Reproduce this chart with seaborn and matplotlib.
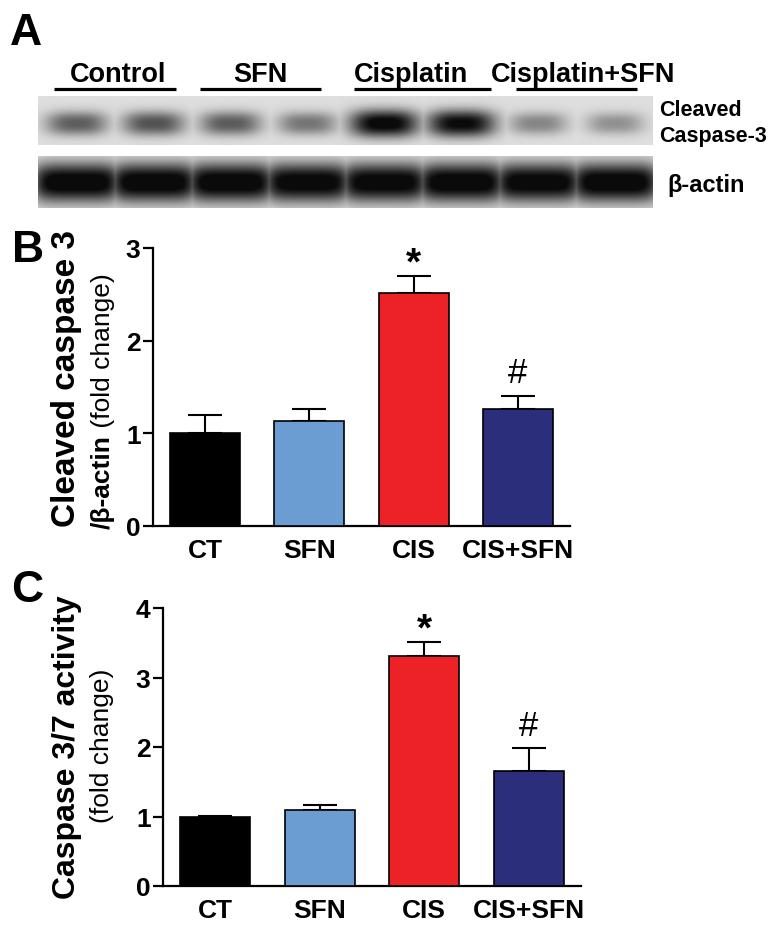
import numpy as np
import matplotlib
matplotlib.use("Agg")
import matplotlib.pyplot as plt
import seaborn as sns

# ---------------- data ----------------
groups = ["CT", "SFN", "CIS", "CIS+SFN"]
bar_colors = ["#000000", "#6B9DD2", "#EC2227", "#2B2E7A"]

# panel B: cleaved caspase 3 / beta-actin
cleaved_mean = [1.00, 1.13, 2.51, 1.26]
cleaved_sem = [0.20, 0.13, 0.19, 0.14]
cleaved_marks = ["", "", "*", "#"]

# panel C: caspase 3/7 activity
activity_mean = [1.00, 1.09, 3.31, 1.65]
activity_sem = [0.01, 0.07, 0.20, 0.33]
activity_marks = ["", "", "*", "#"]

# panel A: western blot (band darkness, 2 lanes per group)
blot_groups = ["Control", "SFN", "Cisplatin", "Cisplatin+SFN"]
caspase_bands = [0.55, 0.60, 0.56, 0.45, 0.97, 0.93, 0.38, 0.33]
actin_bands = [1.0, 1.0, 1.0, 0.98, 0.98, 1.0, 0.98, 1.0]

W, H = 774, 929


def px_rect(x0, y0, x1, y1):
    return [x0 / W, 1 - y1 / H, (x1 - x0) / W, (y1 - y0) / H]


sns.set_style("ticks")
plt.rcParams["font.family"] = ["Liberation Sans", "DejaVu Sans"]
for key in ["text.color", "axes.labelcolor", "xtick.color", "ytick.color", "axes.edgecolor"]:
    plt.rcParams[key] = "black"

fig = plt.figure(figsize=(W / 100, H / 100), dpi=100)

# overlay axes in pixel coordinates for panel letters / blot labels
ov = fig.add_axes([0, 0, 1, 1])
ov.set_xlim(0, W)
ov.set_ylim(H, 0)
ov.axis("off")


# =====================================
# Panel A: blot
# =====================================
def blot_image(levels, width, height, yc, bw, bh, sharp):
    xs = np.arange(width)[None, :]
    ys = np.arange(height)[:, None]
    lane = width / len(levels)
    dark = np.zeros((height, width))
    for i, lv in enumerate(levels):
        xc = lane * (i + 0.5)
        sx = bw * (0.8 + 0.3 * lv)
        sy = bh * (0.8 + 0.35 * lv)
        prof = np.exp(-np.abs((xs - xc) / sx) ** sharp) * np.exp(-np.abs((ys - yc) / sy) ** 2.4)
        dark = np.maximum(dark, lv * prof)
    bg = 0.87
    return bg - np.clip(dark * 1.1, 0, 1) * (bg - 0.04)


blot_x0, blot_x1 = 38, 653
for levels, (y0, y1), yc, bw, bh, sharp in [
    (caspase_bands, (97, 146), 27, 32, 12, 3),
    (actin_bands, (157, 209), 26, 40, 17, 6),
]:
    bax = fig.add_axes(px_rect(blot_x0, y0, blot_x1, y1))
    img = blot_image(levels, blot_x1 - blot_x0, y1 - y0, yc, bw, bh, sharp)
    bax.imshow(img, cmap="gray", vmin=0, vmax=1, aspect="auto", interpolation="bilinear")
    bax.axis("off")

group_lines = [(54, 176), (200, 321), (354, 491), (516, 637)]
group_text_x = [118, 260, 411, 583]
for name, (l0, l1), tx in zip(blot_groups, group_lines, group_text_x):
    ov.plot([l0, l1], [90, 90], color="black", lw=2.3, solid_capstyle="butt")
    ov.text(tx, 82, name, ha="center", va="baseline", fontsize=19.5, fontweight="bold")

ov.text(659, 116, "Cleaved", ha="left", va="baseline", fontsize=15.5, fontweight="bold")
ov.text(659, 142, "Caspase-3", ha="left", va="baseline", fontsize=15.5, fontweight="bold")
ov.text(667, 192, "\u03b2-actin", ha="left", va="baseline", fontsize=17, fontweight="bold")

for letter, x, y in [("A", 10, 45), ("B", 12, 262), ("C", 11, 602)]:
    ov.text(x, y, letter, ha="left", va="baseline", fontsize=32, fontweight="bold")


# =====================================
# Panels B and C: bar charts
# =====================================
def bar_panel(ax, means, sems, marks, ymax):
    sns.barplot(x=groups, y=means, hue=groups, palette=bar_colors, legend=False,
                saturation=1, width=0.67, edgecolor="black", linewidth=1.2, ax=ax, zorder=3)
    ax.errorbar(range(len(groups)), means, yerr=[np.zeros(len(sems)), sems],
                fmt="none", ecolor="black", elinewidth=1.5, capsize=12, capthick=1.5,
                zorder=2)
    for i, m in enumerate(marks):
        if m == "*":
            ax.annotate(m, (i, means[i] + sems[i]), xytext=(0, 2), textcoords="offset points",
                        ha="center", va="baseline", fontsize=28, fontweight="bold")
        elif m == "#":
            ax.annotate(m, (i, means[i] + sems[i]), xytext=(0, 10), textcoords="offset points",
                        ha="center", va="baseline", fontsize=25)
    ax.set_xlim(-0.5, 3.5)
    ax.set_ylim(0, ymax)
    ax.set_yticks(range(ymax + 1))
    sns.despine(ax=ax)
    for s in ["left", "bottom"]:
        ax.spines[s].set_linewidth(1.6)
    ax.tick_params(axis="y", length=7, width=1.6, pad=2, labelsize=19)
    ax.tick_params(axis="x", length=0, pad=9, labelsize=19)
    for lab in ax.get_xticklabels() + ax.get_yticklabels():
        lab.set_fontweight("bold")
    ax.set_xlabel("")
    ax.set_ylabel("")


axB = fig.add_axes(px_rect(153, 249, 570, 527))
bar_panel(axB, cleaved_mean, cleaved_sem, cleaved_marks, 3)

axC = fig.add_axes(px_rect(163, 609, 581, 887))
bar_panel(axC, activity_mean, activity_sem, activity_marks, 4)

# y labels
ov.text(67, 378, "Cleaved caspase 3", rotation=90, ha="center", va="center",
        fontsize=24, fontweight="bold")

# second line of label B: bold part + regular part stacked along the rotated line
fig.canvas.draw()
renderer = fig.canvas.get_renderer()
bold_part = ov.text(0, 0, "/\u03b2-actin", rotation=90, fontsize=19, fontweight="bold")
reg_part = ov.text(0, 0, " (fold change)", rotation=90, fontsize=19)
hb = bold_part.get_window_extent(renderer).height
hr = reg_part.get_window_extent(renderer).height
y_bottom = 401 + (hb + hr) / 2
bold_part.set_position((103, y_bottom))
bold_part.set_ha("center")
bold_part.set_va("bottom")
reg_part.set_position((103, y_bottom - hb))
reg_part.set_ha("center")
reg_part.set_va("bottom")

ov.text(67, 747, "Caspase 3/7 activity", rotation=90, ha="center", va="center",
        fontsize=23, fontweight="bold")
ov.text(102, 746, "(fold change)", rotation=90, ha="center", va="center", fontsize=19)

fig.savefig("out.png", dpi=100)
plt.close(fig)
